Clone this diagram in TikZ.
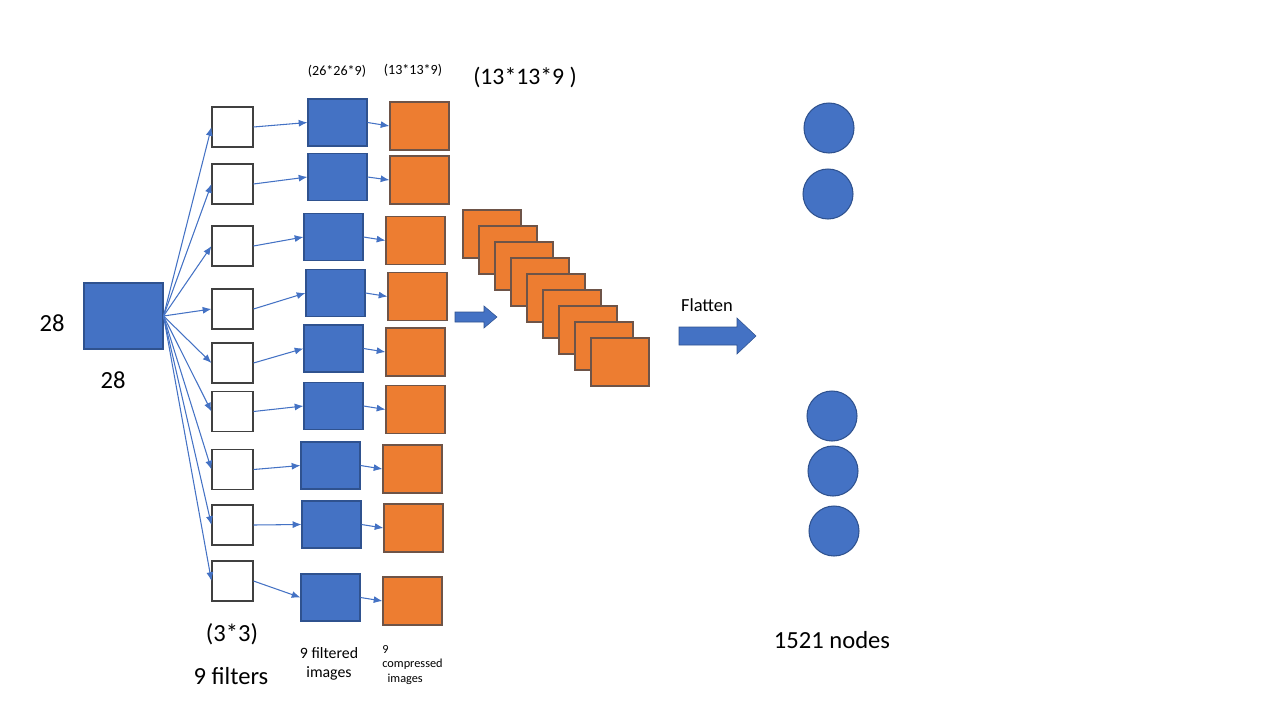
\documentclass[tikz,border=0pt]{standalone}
\usepackage{fontspec}
\setmainfont{Carlito}
\usetikzlibrary{arrows.meta}
\definecolor{ppblue}{HTML}{4472C4}
\definecolor{ppedge}{HTML}{2F528F}
\definecolor{pporange}{HTML}{ED7D31}
\definecolor{ppbrown}{HTML}{6E5448}
\newcommand{\fs}[1]{\fontsize{#1}{1.2\dimexpr#1\relax}\selectfont}

\begin{document}
\begin{tikzpicture}[>={Latex[length=5pt,width=4pt]},x=0.02cm,y=-0.02cm,
	filter/.style={draw=black!75,fill=white,line width=0.6pt,minimum width=0.82cm,minimum height=0.8cm,inner sep=0},
	filtered/.style={draw=ppedge,fill=ppblue,line width=0.6pt,minimum width=1.18cm,minimum height=0.94cm,inner sep=0},
	pooled/.style={draw=ppbrown,fill=pporange,line width=0.6pt,minimum width=1.18cm,minimum height=0.96cm,inner sep=0},
	unit/.style={circle,draw=ppedge,fill=ppblue,line width=0.6pt,minimum size=1cm,inner sep=0},
	conn/.style={->,ppblue,line width=0.6pt},
	blockarrow/.style={fill=ppblue,draw=ppedge,line width=0.3pt}]
		\useasboundingbox (0,0) rectangle (1280,720);

		% input image
		\node[filtered,minimum width=1.58cm,minimum height=1.32cm] (img) at (123.5,316) {};
		\node[font=\fs{14pt}] (wd) at (52,323) {28};
		\node[font=\fs{14pt}] (ht) at (113,380) {28};

		% filters, filtered images, compressed images
		\foreach \i/\fy/\bx/\by/\ox/\oy in {1/127/337.5/122.5/419.5/126,
				2/184/337.5/177/419.5/180,
				3/246/333.5/237/415.5/240.5,
				4/309/335.5/293/417.5/296.5,
				5/363/333.5/348.5/415.5/352,
				6/411.5/333.5/406/415.5/409.5,
				7/469.5/330.5/465.5/412.5/469,
				8/525/331.5/524.5/413.5/528,
				9/581/330.5/597.5/412.5/601}{
			\node[filter] (f\i) at (232.5,\fy) {};
			\node[filtered] (b\i) at (\bx,\by) {};
			\node[pooled] (o\i) at (\ox,\oy) {};
			\draw[conn] (img.east) -- (f\i.west);
			\draw[conn] (f\i.east) -- (b\i.west);
			\draw[conn] (b\i.east) -- (o\i.west);
		}

		% stacked maps
		\foreach \k in {0,...,8}
			\node[pooled,minimum width=1.16cm] (s\k) at (492+16*\k,234+16*\k) {};

		% block arrows
		\draw[blockarrow] (455,312) -- (484,312) -- (484,306) -- (497,317) -- (484,328) -- (484,322) -- (455,322) -- cycle;
		\draw[blockarrow] (679,327) -- (737,327) -- (737,318) -- (756,336) -- (737,354) -- (737,345) -- (679,345) -- cycle;
		\node[font=\fs{10.5pt}] (flat) at (707,305) {Flatten};

		% output nodes
		\node[unit] (n1) at (829,128) {};
		\node[unit] (n2) at (828,194) {};
		\node[unit] (n3) at (832,416) {};
		\node[unit] (n4) at (833,471) {};
		\node[unit] (n5) at (834,531) {};

		% labels
		\node[font=\fs{8pt}] (sz1) at (337,71) {(26*26*9)};
		\node[font=\fs{8pt}] (sz2) at (413,70) {(13*13*9)};
		\node[font=\fs{13.5pt}] (sz3) at (525,77) {(13*13*9 )};
		\node[font=\fs{14pt}] (ksz) at (232,634) {(3*3)};
		\node[font=\fs{14pt}] (nf) at (231,676) {9 filters};
		\node[font=\fs{9pt},align=center] (nfi) at (329,664) {9 filtered\\images};
		\node[font=\fs{7pt},align=left,anchor=west,inner sep=0] (nci) at (382,665) {9\\compressed\\\hspace{3pt}images};
		\node[font=\fs{14pt}] (nn) at (832,640) {1521 nodes};

	\end{tikzpicture}
\end{document}
